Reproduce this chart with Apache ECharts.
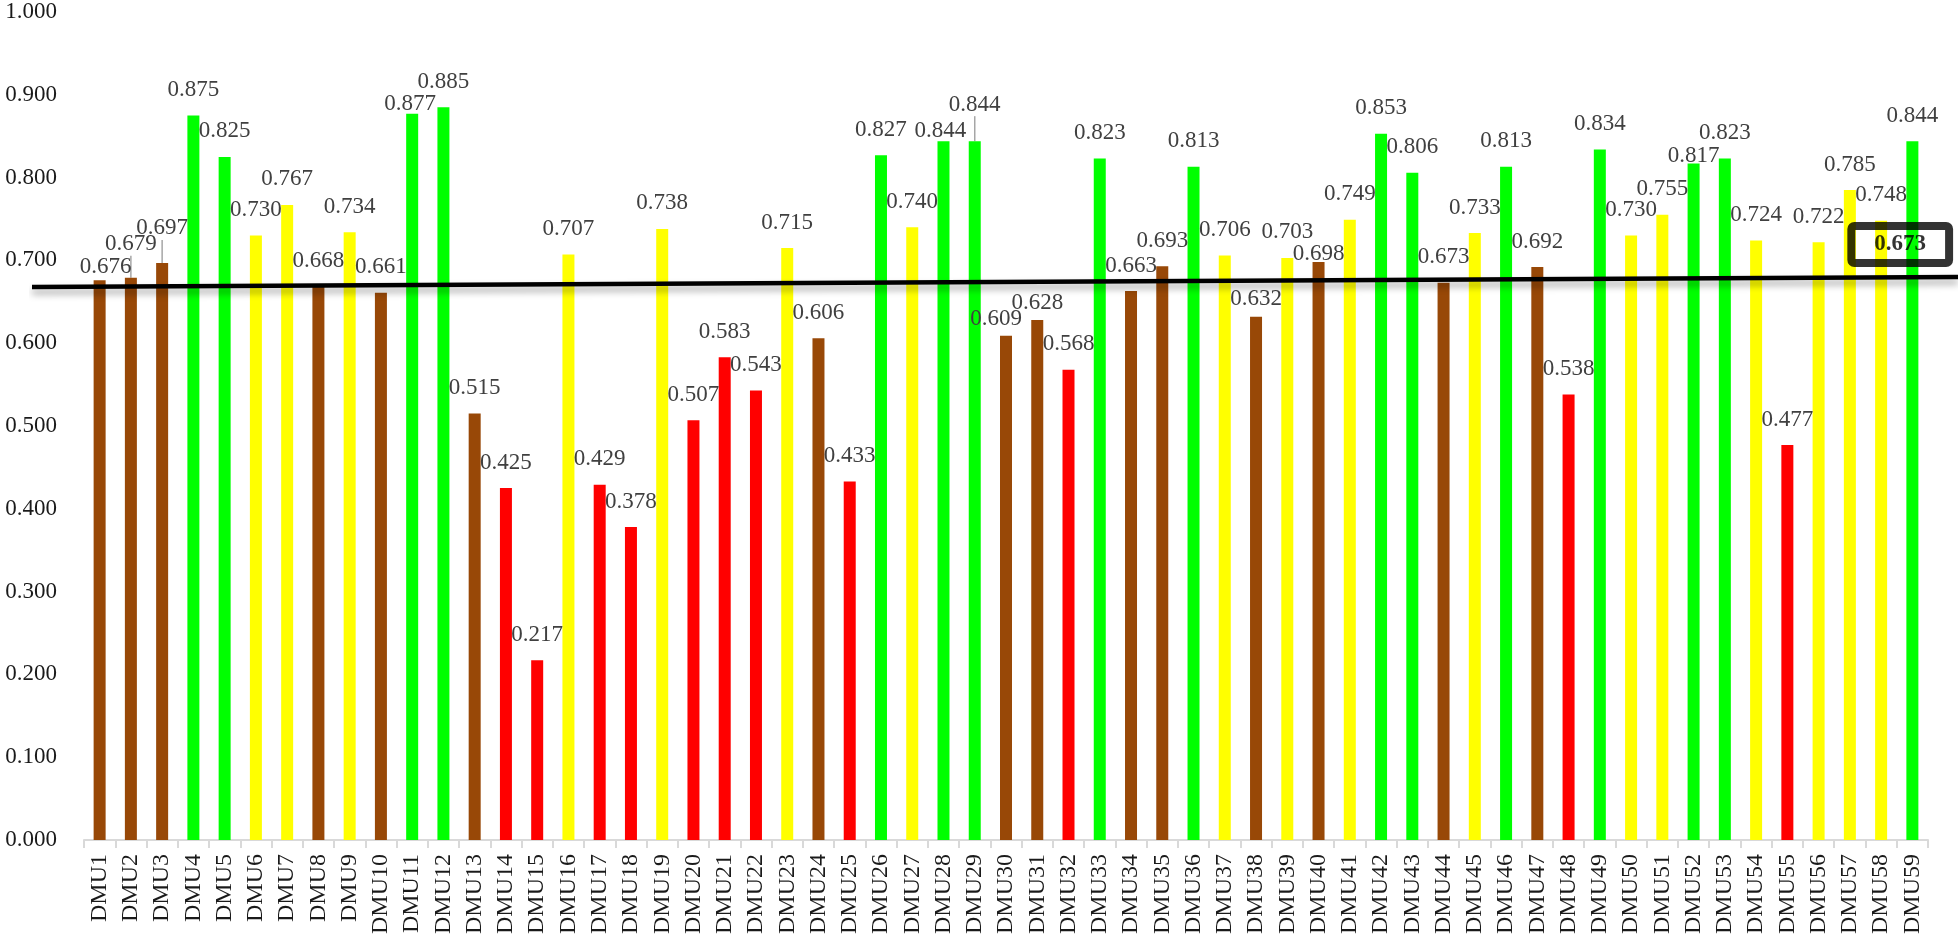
<!DOCTYPE html>
<html>
<head>
<meta charset="utf-8">
<script src="https://cdn.jsdelivr.net/npm/echarts@6/dist/echarts.min.js"></script>
<style>
html,body{margin:0;padding:0;background:#fff;}
#chart{width:1958px;height:944px;}
</style>
</head>
<body>
<div id="chart"></div>
<script>
const categories = ['DMU1','DMU2','DMU3','DMU4','DMU5','DMU6','DMU7','DMU8','DMU9','DMU10',
  'DMU11','DMU12','DMU13','DMU14','DMU15','DMU16','DMU17','DMU18','DMU19','DMU20',
  'DMU21','DMU22','DMU23','DMU24','DMU25','DMU26','DMU27','DMU28','DMU29','DMU30',
  'DMU31','DMU32','DMU33','DMU34','DMU35','DMU36','DMU37','DMU38','DMU39','DMU40',
  'DMU41','DMU42','DMU43','DMU44','DMU45','DMU46','DMU47','DMU48','DMU49','DMU50',
  'DMU51','DMU52','DMU53','DMU54','DMU55','DMU56','DMU57','DMU58','DMU59'];

const efficiency = [0.676,0.679,0.697,0.875,0.825,0.730,0.767,0.668,0.734,0.661,
  0.877,0.885,0.515,0.425,0.217,0.707,0.429,0.378,0.738,0.507,
  0.583,0.543,0.715,0.606,0.433,0.827,0.740,0.844,0.844,0.609,
  0.628,0.568,0.823,0.663,0.693,0.813,0.706,0.632,0.703,0.698,
  0.749,0.853,0.806,0.673,0.733,0.813,0.692,0.538,0.834,0.730,
  0.755,0.817,0.823,0.724,0.477,0.722,0.785,0.748,0.844];

// colour group of each DMU: B = brown, G = green, Y = yellow, R = red
const groups = ['B','B','B','G','G','Y','Y','B','Y','B',
  'G','G','B','R','R','Y','R','R','Y','R',
  'R','R','Y','B','R','G','Y','G','G','B',
  'B','R','G','B','B','G','Y','B','Y','B',
  'Y','G','G','B','Y','G','B','R','G','Y',
  'Y','G','G','Y','R','Y','Y','Y','G'];

const yTicks = [0,0.1,0.2,0.3,0.4,0.5,0.6,0.7,0.8,0.9,1.0];

// hand-drawn average line: value at its left end and right end
const trendLine = [0.668, 0.680];
const averageValue = 0.673;
// ---------------------------------------------------------------

const groupColors = {B:'#984807', G:'#00ff00', Y:'#ffff00', R:'#ff0000'};
const FONT = "'Liberation Serif','Times New Roman',serif";

// manual label nudges [dx, dy] (label placement in the original)
const labelNudges = {0:[6,12], 1:[0,-8], 2:[0,-9], 10:[-2,16], 27:[-3,15], 28:[0,-11],
  29:[-10,9], 30:[0,8], 37:[0,8], 39:[0,17], 51:[0,18]};
const leaderLines = {1:true, 2:true, 28:true};

const barData = efficiency.map((v,i)=>{
  const item = {value:v, itemStyle:{color:groupColors[groups[i]]}};
  if (leaderLines[i]) item.labelLine = {show:true, length2:0, lineStyle:{color:'#a6a6a6', width:1.5}};
  return item;
});

const chart = echarts.init(document.getElementById('chart'), null, {renderer:'canvas'});
chart.setOption({
  animation:false,
  backgroundColor:'#ffffff',
  grid:[
    {left:84, right:30, top:12, bottom:104, containLabel:false},
    {left:32, right:0, top:12, bottom:104, containLabel:false}
  ],
  xAxis:[
    {type:'category', gridIndex:0, data:categories, boundaryGap:true,
     axisLine:{show:true, lineStyle:{color:'#d9d9d9', width:2}},
     axisTick:{show:true, length:8, lineStyle:{color:'#d9d9d9', width:2}},
     axisLabel:{rotate:90, margin:14, interval:0, color:'#1a1a1a', fontFamily:FONT, fontSize:24},
     splitLine:{show:false}},
    {type:'value', gridIndex:1, min:0, max:1, show:false}
  ],
  yAxis:[
    {type:'value', gridIndex:0, min:yTicks[0], max:yTicks[yTicks.length-1], interval:0.1,
     axisLine:{show:false}, axisTick:{show:false}, splitLine:{show:false},
     axisLabel:{margin:27, color:'#1a1a1a', fontFamily:FONT, fontSize:23,
       formatter:v=>v.toFixed(3)}},
    {type:'value', gridIndex:1, min:yTicks[0], max:yTicks[yTicks.length-1], show:false}
  ],
  series:[
    {type:'bar', xAxisIndex:0, yAxisIndex:0, data:barData, barWidth:12, z:2,
     label:{show:true, position:'top', distance:14, color:'#404040', fontFamily:FONT, fontSize:23,
       formatter:p=>p.value.toFixed(3)},
     labelLine:{show:false},
     labelLayout:function(p){
       const n = labelNudges[p.dataIndex];
       return n ? {dx:n[0], dy:n[1]} : {};
     }},
    {type:'line', xAxisIndex:1, yAxisIndex:1, z:5, symbol:'none', silent:true,
     data:[[0,trendLine[0]],[1,trendLine[1]]],
     lineStyle:{color:'#000000', width:4.5, shadowColor:'rgba(0,0,0,0.35)', shadowBlur:7, shadowOffsetY:5}},
    {type:'scatter', xAxisIndex:1, yAxisIndex:1, z:6, symbolSize:0, silent:true,
     data:[[0.970, 0.7192]],
     label:{show:true, position:'inside', formatter:()=>averageValue.toFixed(3),
       color:'#000000', fontFamily:FONT, fontSize:23, fontWeight:'bold',
       borderColor:'#000000', borderWidth:4, borderRadius:3,
       padding:[8,23,6,23], backgroundColor:'transparent'}}
  ]
});
</script>
</body>
</html>
